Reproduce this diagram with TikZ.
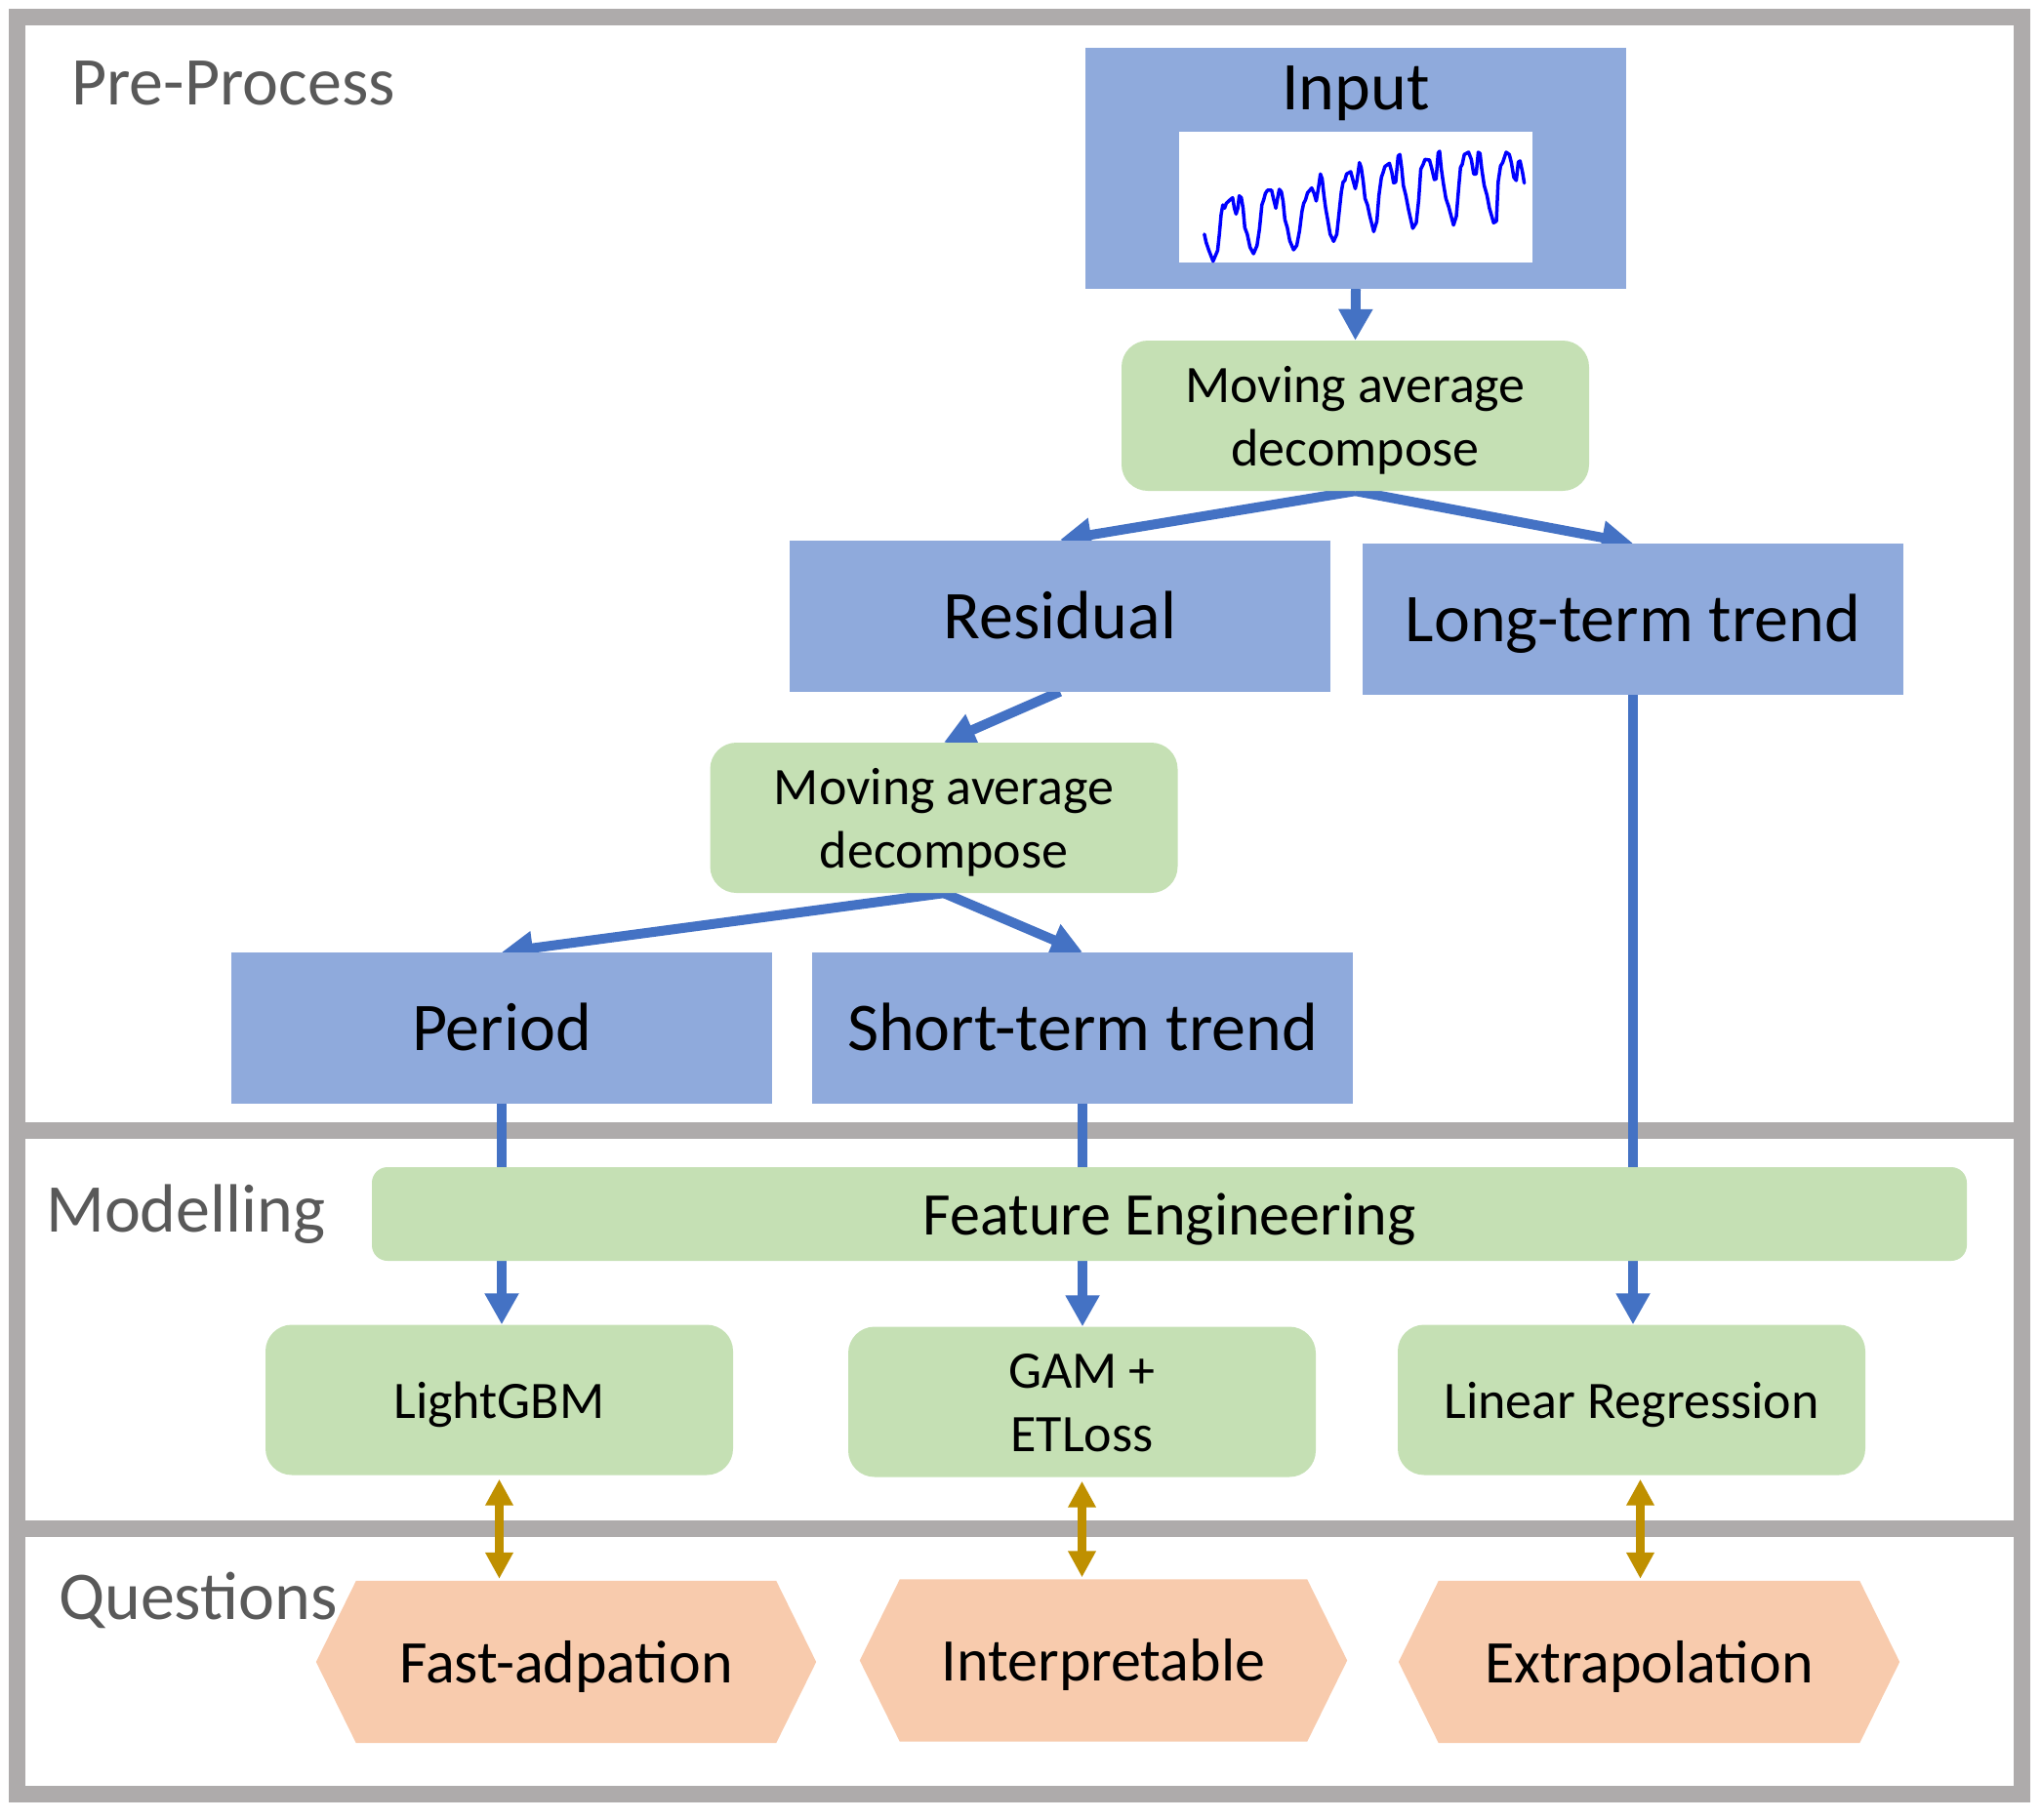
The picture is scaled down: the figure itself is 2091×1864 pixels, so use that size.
\documentclass[tikz,border=0pt]{standalone}
\usepackage{fontspec}
\setmainfont{Carlito}
\usetikzlibrary{arrows.meta,calc}
\definecolor{framegray}{HTML}{AEABAB}
\definecolor{boxblue}{HTML}{8FAADC}
\definecolor{boxgreen}{HTML}{C5E0B4}
\definecolor{hexorange}{HTML}{F8CBAD}
\definecolor{arrowblue}{HTML}{4472C4}
\definecolor{goldc}{HTML}{BF9000}
\definecolor{labelgray}{HTML}{595959}
\definecolor{seriesblue}{HTML}{0000FF}
\newcommand\fntbig{\fontsize{70}{84}\selectfont}
\newcommand\fntmid{\fontsize{54}{65}\selectfont}
\newcommand\fntfe{\fontsize{62}{74}\selectfont}
\pgfdeclarelayer{framelayer}
\pgfdeclarelayer{shapelayer}
\pgfdeclarelayer{connlayer}
\pgfsetlayers{framelayer,shapelayer,connlayer,main}
\begin{document}
\begin{tikzpicture}[x=1pt,y=-1pt,
  bluebox/.style={rectangle, fill=boxblue, inner sep=0pt, minimum width=554pt, minimum height=155pt, font=\fntbig, text height=50pt, text depth=4pt},
  greenbox/.style={rectangle, rounded corners=27pt, fill=boxgreen, inner sep=0pt, minimum width=479pt, minimum height=154pt, align=center, font=\fntmid, text height=41pt, text depth=4pt},
  twolines/.style={text height=106pt, text depth=4pt},
  hexq/.style={rectangle, inner sep=0pt, minimum width=512pt, minimum height=166pt, font=\fntfe, text height=46pt, text depth=4pt},
  seclabel/.style={anchor=base west, inner sep=0pt, font=\fntbig, text=labelgray},
  bluearrow/.style={draw=arrowblue, line width=10pt, -{Triangle[width=33pt,length=32pt]}},
  goldarrow/.style={draw=goldc, line width=9pt, {Triangle[width=27pt,length=27pt]}-{Triangle[width=27pt,length=27pt]}, shorten <=4pt, shorten >=2pt},
  frameline/.style={draw=framegray, line width=17pt}
]
\useasboundingbox (0,0) rectangle (2091,1864);

% frame
\begin{pgfonlayer}{framelayer}
\draw[frameline] (17.5,17) rectangle (2071,1838);
\draw[frameline] (17.5,1158) -- (2071,1158);
\draw[frameline] (17.5,1566) -- (2071,1566);
\end{pgfonlayer}

% section labels
\node[seclabel] (lpre) at (73,107) {Pre-Process};
\node[seclabel] (lmod) at (47,1262) {Modelling};
\node[seclabel] (lq) at (60,1659) {Questions};

% input
\node[rectangle, fill=boxblue, inner sep=0pt, minimum width=554pt, minimum height=247pt] (input) at (1389,172.5) {};
\node[anchor=base, inner sep=0pt, font=\fntbig] (inputlabel) at (1389,112) {Input};
\node[fill=white, inner sep=0pt, minimum width=362pt, minimum height=134pt] (plotarea) at (1389,202) {};
\begin{scope}[shift={(1110,40)}, xscale=0.357, yscale=0.3333]
\draw[seriesblue, line width=3.5pt, line join=round, line cap=round] plot coordinates {
(347,600) (352,625) (360,650) (372,683) (385,650) (390,600) (395,540) (400,510) (405,520) (410,505) (420,495) (428,488) (433,520) (438,538) (443,520) (447,482) (453,488) (458,520) (463,580) (470,600) (478,640) (488,660) (498,635) (505,585) (512,510) (517,495) (522,475) (528,465) (540,465) (545,490) (552,520) (557,490) (562,462) (568,470) (573,500) (578,555) (585,580) (592,620) (603,648) (612,635) (620,590) (627,530) (632,505) (637,495) (643,473) (655,458) (662,475) (668,498) (674,460) (680,415) (685,430) (690,480) (695,520) (700,550) (708,600) (718,622) (727,600) (733,540) (740,470) (745,440) (750,435) (755,415) (767,408) (775,440) (780,460) (785,435) (792,380) (797,395) (803,440) (808,490) (815,510) (822,545) (833,592) (842,560) (848,480) (855,425) (860,410) (865,392) (878,382) (885,410) (890,442) (896,440) (903,360) (908,355) (913,395) (918,450) (925,480) (933,525) (945,582) (955,565) (962,495) (968,400) (975,385) (980,370) (993,372) (1000,400) (1007,432) (1012,430) (1018,350) (1022,345) (1027,400) (1033,445) (1040,490) (1048,515) (1062,572) (1070,545) (1077,455) (1082,395) (1087,385) (1093,355) (1105,348) (1113,370) (1120,415) (1127,415) (1133,348) (1138,352) (1143,400) (1150,450) (1158,480) (1165,520) (1177,565) (1185,560) (1190,440) (1197,390) (1203,380) (1213,348) (1222,355) (1228,380) (1235,425) (1242,435) (1248,378) (1253,375) (1260,410) (1265,443)};
\end{scope}

% pre-process nodes
\node[greenbox, twolines] (ma1) at (1388.5,426) {Moving average\\decompose};
\node[bluebox] (residual) at (1086,631) {Residual};
\node[bluebox] (longterm) at (1673,634.5) {Long-term trend};
\node[greenbox, twolines] (ma2) at (967,838) {Moving average\\decompose};
\node[bluebox] (period) at (514,1053.5) {Period};
\node[bluebox] (shortterm) at (1109,1053.5) {Short-term trend};

% modelling
\node[rectangle, fill=boxgreen, rounded corners=16pt, inner sep=0pt, minimum width=1634pt, minimum height=96pt, font=\fntfe, text height=46pt, text depth=4pt] (fe) at (1198,1244) {Feature Engineering};
\node[greenbox] (lgbm) at (511.5,1434.5) {LightGBM};
\node[greenbox, twolines] (gam) at (1108.5,1436.5) {GAM +\\ETLoss};
\node[greenbox] (linreg) at (1671.5,1434.5) {Linear Regression};

% questions
\node[hexq] (fast) at (580,1703) {Fast-adpation};
\node[hexq, minimum width=499pt] (interp) at (1130.5,1701.5) {Interpretable};
\node[hexq, minimum width=513pt] (extrap) at (1689.5,1703) {Extrapolation};
\begin{pgfonlayer}{shapelayer}
\foreach \h in {fast,interp,extrap}{
  \fill[hexorange] (\h.west) -- ($(\h.north west)+(41,0)$) -- ($(\h.north east)+(-41,0)$) -- (\h.east) -- ($(\h.south east)+(-41,0)$) -- ($(\h.south west)+(41,0)$) -- cycle;
}
\end{pgfonlayer}

% connectors
\begin{pgfonlayer}{connlayer}
\draw[bluearrow] (input.south) -- (ma1.north);
\draw[bluearrow] (ma1.south) -- (residual.north);
\draw[bluearrow] (ma1.south) -- (longterm.north);
\draw[bluearrow] (residual.south) -- (ma2.north);
\draw[bluearrow] (ma2.south) -- (period.north);
\draw[bluearrow] (ma2.south) -- (shortterm.north);
\draw[bluearrow] (period.south) -- (period.south |- lgbm.north);
\draw[bluearrow] (shortterm.south) -- (shortterm.south |- gam.north);
\draw[bluearrow] (longterm.south) -- (longterm.south |- linreg.north);
\coordinate (lrb) at ($(linreg.south)+(9,0)$);
\draw[goldarrow] (lgbm.south) -- (lgbm.south |- fast.north);
\draw[goldarrow] (gam.south) -- (gam.south |- interp.north);
\draw[goldarrow] (lrb) -- (lrb |- extrap.north);
\end{pgfonlayer}
\end{tikzpicture}
\end{document}
